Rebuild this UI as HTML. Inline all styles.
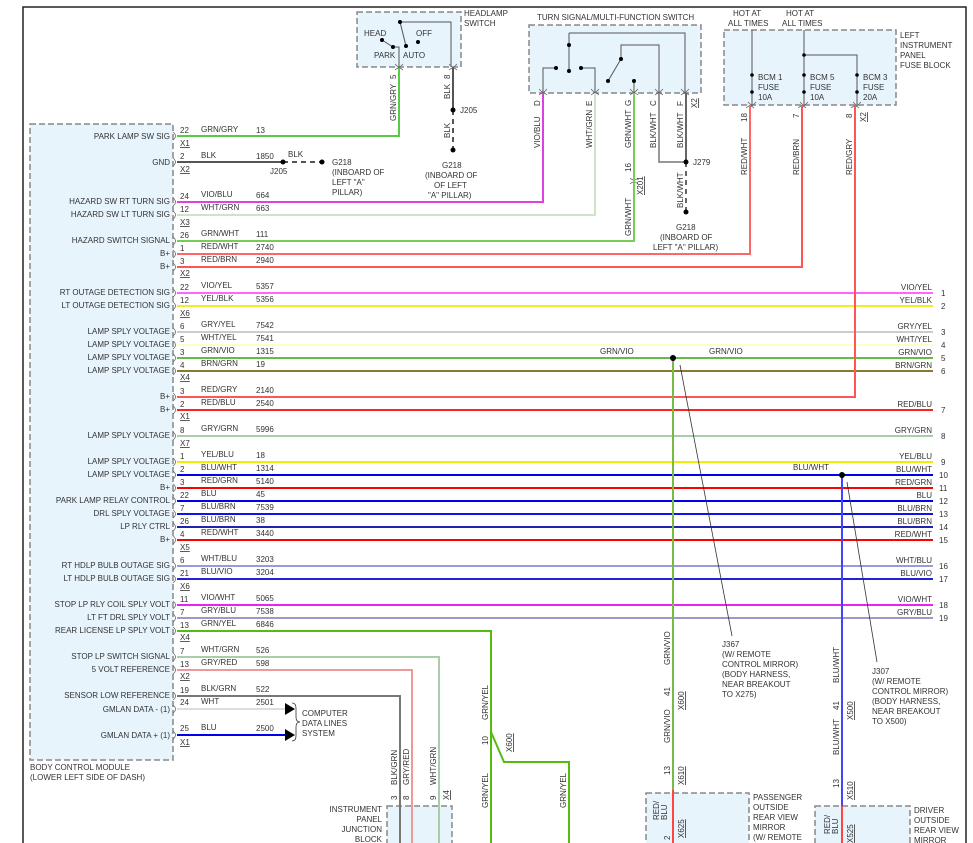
<!DOCTYPE html>
<html><head><meta charset="utf-8"><style>
html,body{margin:0;padding:0;background:#fff}
svg{display:block}
text{font-family:"Liberation Sans",sans-serif;font-size:8px;fill:#333}
.l{text-anchor:end}
.bx{fill:#e8f4fc;stroke:#888;stroke-width:1.5;stroke-dasharray:6,3}
.u{text-decoration:underline}
.cm{fill:none;stroke:#666;stroke-width:0.8}
</style></head><body>
<svg width="973" height="843" viewBox="0 0 973 843" xmlns="http://www.w3.org/2000/svg">
<path d="M23 843 V7 H966 V843" fill="none" stroke="#222" stroke-width="1.5"/>

<rect class="bx" x="30" y="124" width="143" height="636"/>
<rect class="bx" x="357" y="12" width="104" height="55"/>
<rect class="bx" x="529" y="25" width="172" height="68"/>
<rect class="bx" x="724" y="30" width="172" height="75"/>
<rect class="bx" x="387" y="806" width="65" height="40"/>
<rect class="bx" x="646" y="793" width="103" height="60"/>
<rect class="bx" x="815" y="806" width="95" height="50"/>

<text x="30" y="770">BODY CONTROL MODULE</text>
<text x="30" y="780">(LOWER LEFT SIDE OF DASH)</text>

<g stroke="#555" stroke-width="1" fill="none">
<path d="M400 22 H451 V67"/><path d="M400 22 L406 46"/><path d="M382 40 L393 47 H399 V67"/>
</g>
<g fill="#000"><circle cx="400" cy="22" r="2"/><circle cx="406" cy="46" r="2"/><circle cx="382" cy="40" r="2"/><circle cx="393" cy="47" r="2"/><circle cx="418" cy="42" r="2"/></g>
<text x="364" y="36">HEAD</text><text x="416" y="36">OFF</text><text x="374" y="58">PARK</text><text x="403" y="58">AUTO</text>
<text x="464" y="16">HEADLAMP</text><text x="464" y="26">SWITCH</text>

<g stroke="#555" stroke-width="1" fill="none">
<path d="M569 33 H685 V93"/><path d="M569 33 V71"/><path d="M556 68 H543 V93"/><path d="M581 68 H595 V93"/>
<path d="M621 59 V45 H659 V93"/><path d="M621 59 L608 81"/><path d="M634 81 V93"/>
</g>
<g fill="#000"><circle cx="569" cy="45" r="2"/><circle cx="569" cy="71" r="2"/><circle cx="556" cy="68" r="2"/><circle cx="581" cy="68" r="2"/><circle cx="621" cy="59" r="2"/><circle cx="608" cy="81" r="2"/><circle cx="634" cy="81" r="2"/></g>
<text x="537" y="20">TURN SIGNAL/MULTI-FUNCTION SWITCH</text>

<!-- pin connector marks -->
<g class="cm">
<path d="M395 64 L399 68 L403 64 M395 70 Q399 66 403 70"/>
<path d="M449 64 L453 68 L457 64 M449 70 Q453 66 457 70"/>
<path d="M539 89 L543 93 L547 89 M539 95 Q543 91 547 95"/>
<path d="M591 89 L595 93 L599 89 M591 95 Q595 91 599 95"/>
<path d="M630 89 L634 93 L638 89 M630 95 Q634 91 638 95"/>
<path d="M655 89 L659 93 L663 89 M655 95 Q659 91 663 95"/>
<path d="M681 89 L685 93 L689 89 M681 95 Q685 91 689 95"/>
<path d="M748 102 L752 106 L756 102 M746 108 Q750 104 754 108"/>
<path d="M800 102 L804 106 L808 102 M798 108 Q802 104 806 108"/>
<path d="M853 102 L857 106 L861 102 M851 108 Q855 104 859 108"/>
<path d="M630 178 Q634 182 638 178 M630 184 Q634 180 638 184"/>
</g>

<g stroke="#555" stroke-width="1" fill="none">
<path d="M752 30 V105"/><path d="M804 30 V105"/><path d="M804 55 H857 V105"/>
</g>
<g fill="#000"><circle cx="752" cy="75" r="1.8"/><circle cx="752" cy="92" r="1.8"/><circle cx="804" cy="75" r="1.8"/><circle cx="804" cy="92" r="1.8"/><circle cx="857" cy="75" r="1.8"/><circle cx="857" cy="92" r="1.8"/><circle cx="804" cy="55" r="1.8"/></g>
<text x="733" y="16">HOT AT</text><text x="728" y="26">ALL TIMES</text>
<text x="786" y="16">HOT AT</text><text x="782" y="26">ALL TIMES</text>
<text x="758" y="80">BCM 1</text><text x="758" y="90">FUSE</text><text x="758" y="100">10A</text>
<text x="810" y="80">BCM 5</text><text x="810" y="90">FUSE</text><text x="810" y="100">10A</text>
<text x="863" y="80">BCM 3</text><text x="863" y="90">FUSE</text><text x="863" y="100">20A</text>
<text x="900" y="38">LEFT</text><text x="900" y="48">INSTRUMENT</text><text x="900" y="58">PANEL</text><text x="900" y="68">FUSE BLOCK</text>

<g fill="none" stroke-width="2">
<path d="M177 136 H399 V68" stroke="#5c4"/>
<path d="M177 162 H283" stroke="#555"/>
<path d="M283 162 H322" stroke="#555" stroke-dasharray="5,4"/>
<path d="M453 68 V110" stroke="#555"/>
<path d="M453 110 V150" stroke="#555" stroke-dasharray="5,4"/>
<path d="M177 202 H543 V93" stroke="#e040e0"/>
<path d="M177 215 H595 V93" stroke="#cfe3c8"/>
<path d="M177 241 H634 V93" stroke="#7c5"/>
<path d="M177 254 H750 V105" stroke="#f66"/>
<path d="M177 267 H802 V105" stroke="#f55"/>
<path d="M659 93 V162 H686" stroke="#777" stroke-width="1.5"/>
<path d="M686 93 V162" stroke="#666"/>
<path d="M686 162 V212" stroke="#666" stroke-dasharray="5,4"/>
<path d="M177 293 H933" stroke="#f6f"/>
<path d="M177 306 H933" stroke="#ee2"/>
<path d="M177 332 H933" stroke="#ccc"/>
<path d="M177 345 H933" stroke="#ffc"/>
<path d="M177 358 H933" stroke="#6b4"/>
<path d="M177 371 H933" stroke="#8a7a30"/>
<path d="M177 397 H855 V105" stroke="#f55"/>
<path d="M177 410 H933" stroke="#f22"/>
<path d="M177 436 H933" stroke="#aca"/>
<path d="M177 462 H933" stroke="#ee0"/>
<path d="M177 475 H933" stroke="#00e"/>
<path d="M177 488 H933" stroke="#f00"/>
<path d="M177 501 H933" stroke="#00e"/>
<path d="M177 514 H933" stroke="#11e"/>
<path d="M177 527 H933" stroke="#22a"/>
<path d="M177 540 H933" stroke="#f00"/>
<path d="M177 566 H933" stroke="#99d"/>
<path d="M177 579 H933" stroke="#22d"/>
<path d="M177 605 H933" stroke="#e2e"/>
<path d="M177 618 H933" stroke="#99c"/>
<path d="M177 631 H491 V843" stroke="#5b1"/>
<path d="M491 732 L504 762 H569 V843" stroke="#5b1"/>
<path d="M177 657 H439 V843" stroke="#aca"/>
<path d="M177 670 H412 V843" stroke="#e99"/>
<path d="M177 696 H400 V843" stroke="#777"/>
<path d="M177 709 H285" stroke="#ddd"/>
<path d="M177 735 H285" stroke="#00e"/>
<path d="M673 358 V790" stroke="#7b4"/>
<path d="M673 790 V843" stroke="#f44"/>
<path d="M842 475 V806" stroke="#44f"/>
<path d="M842 806 V843" stroke="#f44"/>
</g>
<!-- BCM edge connector marks -->
<g class="cm">
<path d="M173 132 Q178 136 173 140 M173 158 Q178 162 173 166 M173 198 Q178 202 173 206 M173 211 Q178 215 173 219 M173 237 Q178 241 173 245 M173 250 Q178 254 173 258 M173 263 Q178 267 173 271 M173 289 Q178 293 173 297 M173 302 Q178 306 173 310 M173 328 Q178 332 173 336 M173 341 Q178 345 173 349 M173 354 Q178 358 173 362 M173 367 Q178 371 173 375 M173 393 Q178 397 173 401 M173 406 Q178 410 173 414 M173 432 Q178 436 173 440 M173 458 Q178 462 173 466 M173 471 Q178 475 173 479 M173 484 Q178 488 173 492 M173 497 Q178 501 173 505 M173 510 Q178 514 173 518 M173 523 Q178 527 173 531 M173 536 Q178 540 173 544 M173 562 Q178 566 173 570 M173 575 Q178 579 173 583 M173 601 Q178 605 173 609 M173 614 Q178 618 173 622 M173 627 Q178 631 173 635 M173 653 Q178 657 173 661 M173 666 Q178 670 173 674 M173 692 Q178 696 173 700 M173 705 Q178 709 173 713 M173 731 Q178 735 173 739"/>
</g>
<path d="M285 703 L295 709 L285 715Z M285 729 L295 735 L285 741Z" fill="#000"/>
<path d="M292 703 Q296 703 296 708 V717 Q296 722 300 722 Q296 722 296 727 V736 Q296 741 292 741" fill="none" stroke="#333" stroke-width="0.8"/>
<text x="302" y="716">COMPUTER</text><text x="302" y="726">DATA LINES</text><text x="302" y="736">SYSTEM</text>
<g fill="#000"><circle cx="283" cy="162" r="2.5"/><circle cx="322" cy="162" r="2.5"/><circle cx="453" cy="110" r="2.5"/><circle cx="453" cy="150" r="2.5"/><circle cx="686" cy="162" r="2.5"/><circle cx="686" cy="212" r="2.5"/><circle cx="673" cy="358" r="3"/><circle cx="842" cy="475" r="3"/></g>
<path d="M680 365 L732 636 M847 482 L877 662" stroke="#333" stroke-width="0.8"/>
<text x="288" y="157">BLK</text><text x="270" y="174">J205</text>
<text x="332" y="165">G218</text><text x="332" y="175">(INBOARD OF</text><text x="332" y="185">LEFT "A"</text><text x="332" y="195">PILLAR)</text>
<text x="460" y="113">J205</text>
<text x="442" y="168">G218</text><text x="425" y="178">(INBOARD OF</text><text x="434" y="188">OF LEFT</text><text x="428" y="198">"A" PILLAR)</text>
<text x="693" y="165">J279</text>
<text x="676" y="230">G218</text><text x="660" y="240">(INBOARD OF</text><text x="653" y="250">LEFT "A" PILLAR)</text>
<text x="600" y="354">GRN/VIO</text><text x="709" y="354">GRN/VIO</text>
<text x="793" y="470">BLU/WHT</text>
<text x="722" y="647">J367</text><text x="722" y="657">(W/ REMOTE</text><text x="722" y="667">CONTROL MIRROR)</text><text x="722" y="677">(BODY HARNESS,</text><text x="722" y="687">NEAR BREAKOUT</text><text x="722" y="697">TO X275)</text>
<text x="872" y="674">J307</text><text x="872" y="684">(W/ REMOTE</text><text x="872" y="694">CONTROL MIRROR)</text><text x="872" y="704">(BODY HARNESS,</text><text x="872" y="714">NEAR BREAKOUT</text><text x="872" y="724">TO X500)</text>
<text x="753" y="800">PASSENGER</text><text x="753" y="810">OUTSIDE</text><text x="753" y="820">REAR VIEW</text><text x="753" y="830">MIRROR</text><text x="753" y="840">(W/ REMOTE</text>
<text x="914" y="813">DRIVER</text><text x="914" y="823">OUTSIDE</text><text x="914" y="833">REAR VIEW</text><text x="914" y="843">MIRROR</text>
<text class="l" x="382" y="812">INSTRUMENT</text><text class="l" x="382" y="822">PANEL</text><text class="l" x="382" y="832">JUNCTION</text><text class="l" x="382" y="842">BLOCK</text>

<g>
<text transform="translate(396,121) rotate(-90)">GRN/GRY</text><text transform="translate(396,79) rotate(-90)">5</text>
<text transform="translate(450,99) rotate(-90)">BLK</text><text transform="translate(450,79) rotate(-90)">8</text>
<text transform="translate(450,138) rotate(-90)">BLK</text>
<text transform="translate(540,148) rotate(-90)">VIO/BLU</text><text transform="translate(540,106) rotate(-90)">D</text>
<text transform="translate(592,148) rotate(-90)">WHT/GRN</text><text transform="translate(592,106) rotate(-90)">E</text>
<text transform="translate(631,148) rotate(-90)">GRN/WHT</text><text transform="translate(631,106) rotate(-90)">G</text>
<text transform="translate(656,148) rotate(-90)">BLK/WHT</text><text transform="translate(656,106) rotate(-90)">C</text>
<text transform="translate(683,148) rotate(-90)">BLK/WHT</text><text transform="translate(683,106) rotate(-90)">F</text><text class="u" transform="translate(697,108) rotate(-90)">X2</text>
<text transform="translate(631,172) rotate(-90)">16</text><text class="u" transform="translate(643,195) rotate(-90)">X201</text>
<text transform="translate(631,236) rotate(-90)">GRN/WHT</text>
<text transform="translate(683,208) rotate(-90)">BLK/WHT</text>
<text transform="translate(747,175) rotate(-90)">RED/WHT</text><text transform="translate(747,122) rotate(-90)">18</text>
<text transform="translate(799,175) rotate(-90)">RED/BRN</text><text transform="translate(799,118) rotate(-90)">7</text>
<text transform="translate(852,175) rotate(-90)">RED/GRY</text><text transform="translate(852,118) rotate(-90)">8</text><text class="u" transform="translate(866,122) rotate(-90)">X2</text>
<text transform="translate(488,720) rotate(-90)">GRN/YEL</text><text transform="translate(488,745) rotate(-90)">10</text><text class="u" transform="translate(512,752) rotate(-90)">X600</text>
<text transform="translate(488,808) rotate(-90)">GRN/YEL</text><text transform="translate(566,808) rotate(-90)">GRN/YEL</text>
<text transform="translate(397,785) rotate(-90)">BLK/GRN</text><text transform="translate(397,800) rotate(-90)">3</text>
<text transform="translate(409,785) rotate(-90)">GRY/RED</text><text transform="translate(409,800) rotate(-90)">8</text>
<text transform="translate(436,785) rotate(-90)">WHT/GRN</text><text transform="translate(436,800) rotate(-90)">9</text><text class="u" transform="translate(449,800) rotate(-90)">X4</text>
<text transform="translate(670,665) rotate(-90)">GRN/VIO</text><text transform="translate(670,696) rotate(-90)">41</text><text class="u" transform="translate(684,710) rotate(-90)">X600</text>
<text transform="translate(670,743) rotate(-90)">GRN/VIO</text><text transform="translate(670,775) rotate(-90)">13</text><text class="u" transform="translate(684,785) rotate(-90)">X610</text>
<text transform="translate(659,820) rotate(-90)">RED/</text><text transform="translate(667,820) rotate(-90)">BLU</text><text transform="translate(670,840) rotate(-90)">2</text><text class="u" transform="translate(684,838) rotate(-90)">X625</text>
<text transform="translate(839,683) rotate(-90)">BLU/WHT</text><text transform="translate(839,710) rotate(-90)">41</text><text class="u" transform="translate(853,720) rotate(-90)">X500</text>
<text transform="translate(839,755) rotate(-90)">BLU/WHT</text><text transform="translate(839,788) rotate(-90)">13</text><text class="u" transform="translate(853,800) rotate(-90)">X510</text>
<text transform="translate(830,834) rotate(-90)">RED/</text><text transform="translate(838,834) rotate(-90)">BLU</text><text class="u" transform="translate(853,843) rotate(-90)">X525</text>
</g>

<g>
<text class="l" x="170" y="139">PARK LAMP SW SIG</text><text x="180" y="133">22</text><text x="201" y="132">GRN/GRY</text><text x="256" y="133">13</text><text class="u" x="180" y="146">X1</text>
<text class="l" x="170" y="165">GND</text><text x="180" y="159">2</text><text x="201" y="158">BLK</text><text x="256" y="159">1850</text><text class="u" x="180" y="172">X2</text>
<text class="l" x="170" y="204">HAZARD SW RT TURN SIG</text><text x="180" y="199">24</text><text x="201" y="197">VIO/BLU</text><text x="256" y="198">664</text>
<text class="l" x="170" y="217">HAZARD SW LT TURN SIG</text><text x="180" y="212">12</text><text x="201" y="210">WHT/GRN</text><text x="256" y="211">663</text><text class="u" x="180" y="225">X3</text>
<text class="l" x="170" y="243">HAZARD SWITCH SIGNAL</text><text x="180" y="238">26</text><text x="201" y="236">GRN/WHT</text><text x="256" y="237">111</text>
<text class="l" x="170" y="256">B+</text><text x="180" y="251">1</text><text x="201" y="249">RED/WHT</text><text x="256" y="250">2740</text>
<text class="l" x="170" y="269">B+</text><text x="180" y="264">3</text><text x="201" y="262">RED/BRN</text><text x="256" y="263">2940</text><text class="u" x="180" y="276">X2</text>
<text class="l" x="170" y="295">RT OUTAGE DETECTION SIG</text><text x="180" y="290">22</text><text x="201" y="288">VIO/YEL</text><text x="256" y="289">5357</text>
<text class="l" x="170" y="308">LT OUTAGE DETECTION SIG</text><text x="180" y="303">12</text><text x="201" y="301">YEL/BLK</text><text x="256" y="302">5356</text><text class="u" x="180" y="316">X6</text>
<text class="l" x="170" y="334">LAMP SPLY VOLTAGE</text><text x="180" y="329">6</text><text x="201" y="327">GRY/YEL</text><text x="256" y="328">7542</text>
<text class="l" x="170" y="347">LAMP SPLY VOLTAGE</text><text x="180" y="342">5</text><text x="201" y="340">WHT/YEL</text><text x="256" y="341">7541</text>
<text class="l" x="170" y="360">LAMP SPLY VOLTAGE</text><text x="180" y="355">3</text><text x="201" y="353">GRN/VIO</text><text x="256" y="354">1315</text>
<text class="l" x="170" y="373">LAMP SPLY VOLTAGE</text><text x="180" y="368">4</text><text x="201" y="366">BRN/GRN</text><text x="256" y="367">19</text><text class="u" x="180" y="380">X4</text>
<text class="l" x="170" y="399">B+</text><text x="180" y="394">3</text><text x="201" y="392">RED/GRY</text><text x="256" y="393">2140</text>
<text class="l" x="170" y="412">B+</text><text x="180" y="407">2</text><text x="201" y="405">RED/BLU</text><text x="256" y="406">2540</text><text class="u" x="180" y="419">X1</text>
<text class="l" x="170" y="438">LAMP SPLY VOLTAGE</text><text x="180" y="433">8</text><text x="201" y="431">GRY/GRN</text><text x="256" y="432">5996</text><text class="u" x="180" y="446">X7</text>
<text class="l" x="170" y="464">LAMP SPLY VOLTAGE</text><text x="180" y="459">1</text><text x="201" y="457">YEL/BLU</text><text x="256" y="458">18</text>
<text class="l" x="170" y="477">LAMP SPLY VOLTAGE</text><text x="180" y="472">2</text><text x="201" y="470">BLU/WHT</text><text x="256" y="471">1314</text>
<text class="l" x="170" y="490">B+</text><text x="180" y="485">3</text><text x="201" y="483">RED/GRN</text><text x="256" y="484">5140</text>
<text class="l" x="170" y="503">PARK LAMP RELAY CONTROL</text><text x="180" y="498">22</text><text x="201" y="496">BLU</text><text x="256" y="497">45</text>
<text class="l" x="170" y="516">DRL SPLY VOLTAGE</text><text x="180" y="511">7</text><text x="201" y="509">BLU/BRN</text><text x="256" y="510">7539</text>
<text class="l" x="170" y="529">LP RLY CTRL</text><text x="180" y="524">26</text><text x="201" y="522">BLU/BRN</text><text x="256" y="523">38</text>
<text class="l" x="170" y="542">B+</text><text x="180" y="537">4</text><text x="201" y="535">RED/WHT</text><text x="256" y="536">3440</text><text class="u" x="180" y="550">X5</text>
<text class="l" x="170" y="568">RT HDLP BULB OUTAGE SIG</text><text x="180" y="563">6</text><text x="201" y="561">WHT/BLU</text><text x="256" y="562">3203</text>
<text class="l" x="170" y="581">LT HDLP BULB OUTAGE SIG</text><text x="180" y="576">21</text><text x="201" y="574">BLU/VIO</text><text x="256" y="575">3204</text><text class="u" x="180" y="589">X6</text>
<text class="l" x="170" y="607">STOP LP RLY COIL SPLY VOLT</text><text x="180" y="602">11</text><text x="201" y="600">VIO/WHT</text><text x="256" y="601">5065</text>
<text class="l" x="170" y="620">LT FT DRL SPLY VOLT</text><text x="180" y="615">7</text><text x="201" y="613">GRY/BLU</text><text x="256" y="614">7538</text>
<text class="l" x="170" y="633">REAR LICENSE LP SPLY VOLT</text><text x="180" y="628">13</text><text x="201" y="626">GRN/YEL</text><text x="256" y="627">6846</text><text class="u" x="180" y="640">X4</text>
<text class="l" x="170" y="659">STOP LP SWITCH SIGNAL</text><text x="180" y="654">7</text><text x="201" y="652">WHT/GRN</text><text x="256" y="653">526</text>
<text class="l" x="170" y="672">5 VOLT REFERENCE</text><text x="180" y="667">13</text><text x="201" y="665">GRY/RED</text><text x="256" y="666">598</text><text class="u" x="180" y="679">X2</text>
<text class="l" x="170" y="698">SENSOR LOW REFERENCE</text><text x="180" y="693">19</text><text x="201" y="691">BLK/GRN</text><text x="256" y="692">522</text>
<text class="l" x="170" y="712">GMLAN DATA - (1)</text><text x="180" y="705">24</text><text x="201" y="704">WHT</text><text x="256" y="705">2501</text>
<text class="l" x="170" y="738">GMLAN DATA + (1)</text><text x="180" y="731">25</text><text x="201" y="730">BLU</text><text x="256" y="731">2500</text><text class="u" x="180" y="745">X1</text>
</g>

<g>
<text class="l" x="932" y="290">VIO/YEL</text><text x="941" y="296">1</text>
<text class="l" x="932" y="303">YEL/BLK</text><text x="941" y="309">2</text>
<text class="l" x="932" y="329">GRY/YEL</text><text x="941" y="335">3</text>
<text class="l" x="932" y="342">WHT/YEL</text><text x="941" y="348">4</text>
<text class="l" x="932" y="355">GRN/VIO</text><text x="941" y="361">5</text>
<text class="l" x="932" y="368">BRN/GRN</text><text x="941" y="374">6</text>
<text class="l" x="932" y="407">RED/BLU</text><text x="941" y="413">7</text>
<text class="l" x="932" y="433">GRY/GRN</text><text x="941" y="439">8</text>
<text class="l" x="932" y="459">YEL/BLU</text><text x="941" y="465">9</text>
<text class="l" x="932" y="472">BLU/WHT</text><text x="939" y="478">10</text>
<text class="l" x="932" y="485">RED/GRN</text><text x="939" y="491">11</text>
<text class="l" x="932" y="498">BLU</text><text x="939" y="504">12</text>
<text class="l" x="932" y="511">BLU/BRN</text><text x="939" y="517">13</text>
<text class="l" x="932" y="524">BLU/BRN</text><text x="939" y="530">14</text>
<text class="l" x="932" y="537">RED/WHT</text><text x="939" y="543">15</text>
<text class="l" x="932" y="563">WHT/BLU</text><text x="939" y="569">16</text>
<text class="l" x="932" y="576">BLU/VIO</text><text x="939" y="582">17</text>
<text class="l" x="932" y="602">VIO/WHT</text><text x="939" y="608">18</text>
<text class="l" x="932" y="615">GRY/BLU</text><text x="939" y="621">19</text>
</g>
</svg>
</body></html>
